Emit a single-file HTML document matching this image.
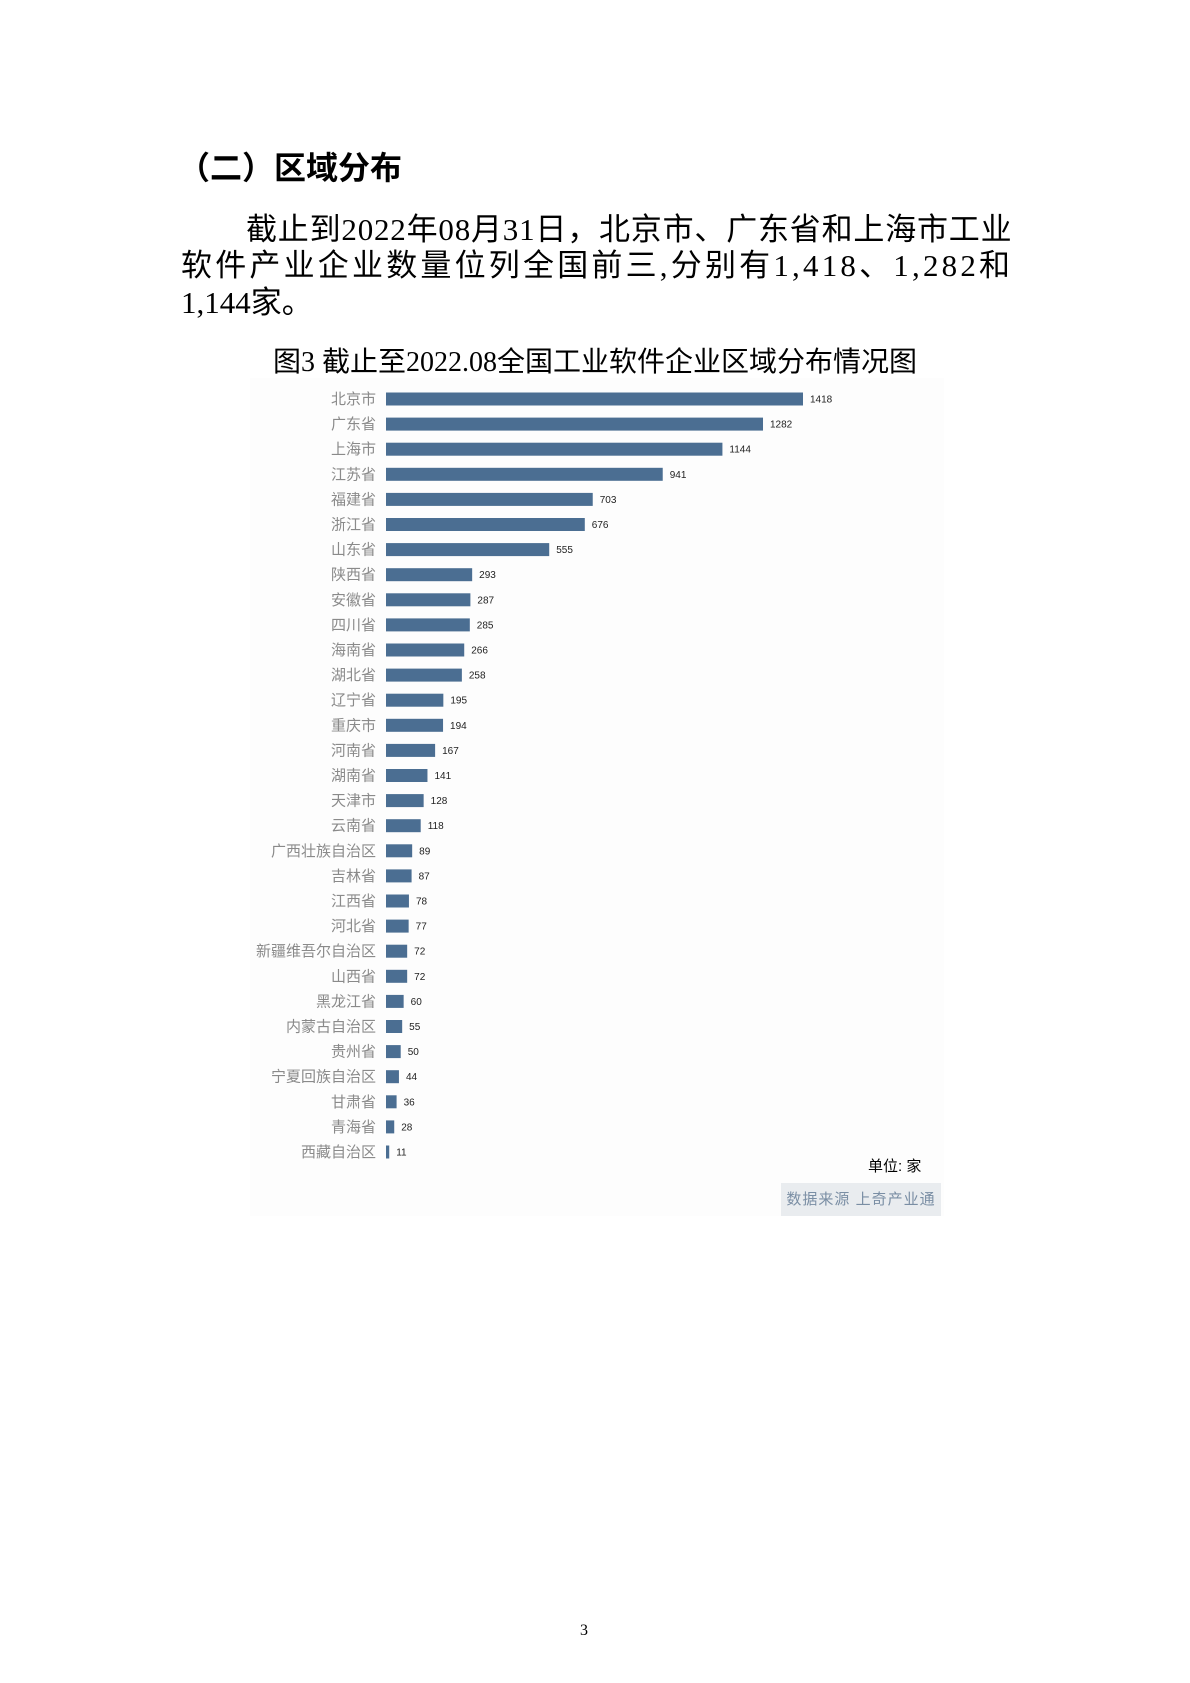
<!DOCTYPE html>
<html><head><meta charset="utf-8"><style>
body{margin:0;background:#fff;}
#page{position:relative;width:1190px;height:1683px;overflow:hidden;font-family:"Liberation Serif","Noto Sans CJK SC",serif;color:#000;}
.abs{position:absolute;white-space:nowrap;}
</style></head><body>
<div id="page">
<div class="abs" style="left:178px;top:143px;font-size:32px;font-weight:bold;font-family:'Liberation Sans','Noto Sans CJK SC',sans-serif;">（二）区域分布</div>
<div class="abs" style="left:246px;top:204px;font-size:31px;letter-spacing:0.8px;">截止到2022年08月31日，北京市、广东省和上海市工业</div>
<div class="abs" style="left:181px;top:240px;font-size:31px;letter-spacing:3.2px;">软件产业企业数量位列全国前三,分别有1,418、1,282和</div>
<div class="abs" style="left:181px;top:277px;font-size:31px;">1,144家。</div>
<div class="abs" style="left:273px;top:340px;font-size:28px;">图3 截止至2022.08全国工业软件企业区域分布情况图</div>
<div class="abs" style="left:250px;top:378px;width:694px;height:838px;background:#fdfdfd;"></div>
<svg id="chart" class="abs" style="left:0;top:0;" width="1190" height="1683"></svg>
<div class="abs" style="left:868px;top:1155px;font-size:15px;font-family:'Liberation Sans','Noto Sans CJK SC',sans-serif;">单位: 家</div>
<div class="abs" style="left:781px;top:1183px;width:160px;height:33px;background:#e9ecef;color:#7a8ea4;font-size:15px;line-height:33px;text-align:center;letter-spacing:1px;font-family:'Liberation Sans','Noto Sans CJK SC',sans-serif;">数据来源 上奇产业通</div>
<div class="abs" style="left:580px;top:1622px;font-size:16px;">3</div>
</div>
<script>
const categories=["北京市","广东省","上海市","江苏省","福建省","浙江省","山东省","陕西省","安徽省","四川省","海南省","湖北省","辽宁省","重庆市","河南省","湖南省","天津市","云南省","广西壮族自治区","吉林省","江西省","河北省","新疆维吾尔自治区","山西省","黑龙江省","内蒙古自治区","贵州省","宁夏回族自治区","甘肃省","青海省","西藏自治区"];
const values=[1418,1282,1144,941,703,676,555,293,287,285,266,258,195,194,167,141,128,118,89,87,78,77,72,72,60,55,50,44,36,28,11];
const svg=document.getElementById('chart');
const NS='http://www.w3.org/2000/svg';
const x0=386,maxW=417,maxV=1418,y0=399,step=25.1,bh=13;
function xs(v){return v/maxV*maxW;}
function ys(i){return y0+i*step;}
categories.forEach((c,i)=>{
  const y=ys(i);
  const t=document.createElementNS(NS,'text');
  
  
  t.setAttribute('x',376);t.setAttribute('y',y+5);t.setAttribute('text-anchor','end');
  t.setAttribute('font-size','15');t.setAttribute('fill','#8a8a8a');
  t.setAttribute('font-family','Liberation Sans, Noto Sans CJK SC, sans-serif');
  t.textContent=c;svg.appendChild(t);
  const r=document.createElementNS(NS,'rect');
  
  
  r.setAttribute('x',x0);r.setAttribute('y',y-bh/2);r.setAttribute('width',Math.max(xs(values[i]),2));r.setAttribute('height',bh);
  r.setAttribute('fill','#4b6e92');svg.appendChild(r);
  const v=document.createElementNS(NS,'text');
  
  
  v.setAttribute('x',x0+Math.max(xs(values[i]),2)+7);v.setAttribute('y',y+3.5);
  v.setAttribute('font-size','10');v.setAttribute('fill','#222');
  v.setAttribute('font-family','Liberation Sans, sans-serif');
  v.textContent=values[i];svg.appendChild(v);
});
</script>
</body></html>
